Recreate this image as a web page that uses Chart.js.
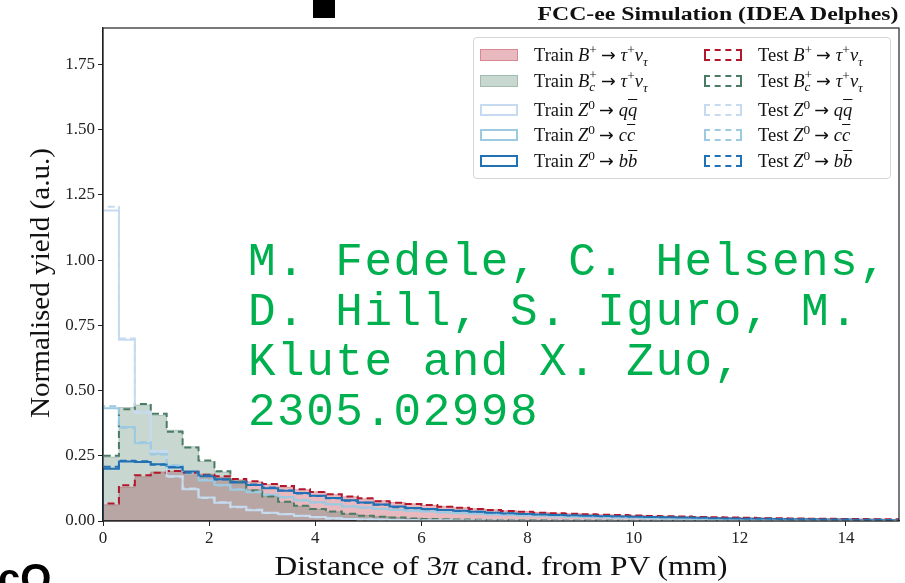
<!DOCTYPE html>
<html>
<head>
<meta charset="utf-8">
<script src="https://cdn.jsdelivr.net/npm/chart.js@4.4.1/dist/chart.umd.min.js"></script>
<style>
  html, body { margin: 0; padding: 0; background: #fff; }
  #wrap { position: relative; width: 905px; height: 583px; overflow: hidden; font-family: "Liberation Serif", serif; color: #111; }
  #plot { position: absolute; left: 0; top: 0; }
  .title { position: absolute; right: 7px; top: 4px; font-weight: bold; font-size: 18px; white-space: nowrap; transform-origin: right center; }
  .xlabel { position: absolute; left: 501px; top: 550px; font-size: 28px; white-space: nowrap; transform-origin: left top; }
  .ylabel { position: absolute; left: 40px; top: 283px; font-size: 28px; white-space: nowrap; }
  #legend { position: absolute; left: 473px; top: 37px; width: 416px; height: 140px; border: 1px solid #d6d6d6; border-radius: 4px; background: rgba(255,255,255,0.85); }
  .item { position: absolute; height: 20px; font-size: 18.5px; white-space: nowrap; line-height: 20px; }
  .handle { position: absolute; left: 0; top: 4px; width: 38px; height: 12px; box-sizing: border-box; }
  .txt { position: absolute; left: 54px; top: 0; }
  .txt sup, .txt sub { font-size: 72%; line-height: 0; }
  .arr { font-family: "DejaVu Sans", sans-serif; font-size: 95%; margin: 0 5px 0 4px; }
  .ss { display: inline-block; vertical-align: middle; line-height: 0.9; font-size: 72%; text-align: left; margin-top: -4px; }
  .ss span { display: block; }
  .bar { text-decoration: overline; }
  .credit { position: absolute; left: 248px; top: 238px; font-family: "Liberation Mono", monospace; font-size: 46px; letter-spacing: 1.5px; line-height: 50px; color: #00b04f; white-space: pre; }
  .mark { position: absolute; left: 313px; top: 0; width: 22px; height: 18px; background: #000; }
  .corner { position: absolute; left: -2px; top: 556px; font-family: "Liberation Sans", sans-serif; font-weight: bold; font-size: 40px; color: #000; }
</style>
</head>
<body>
<div id="wrap">
  <canvas id="plot" width="905" height="583"></canvas>
  <div class="mark"></div>
  <div class="title" id="title">FCC-ee Simulation (IDEA Delphes)</div>
  <div id="legend"></div>
  <div class="xlabel" id="xlabel">Distance of 3<i>π</i> cand. from PV (mm)</div>
  <div class="ylabel" id="ylabel">Normalised yield (a.u.)</div>
  <div class="credit">M. Fedele, C. Helsens,
D. Hill, S. Iguro, M.
Klute and X. Zuo,
2305.02998</div>
  <div class="corner">cO</div>
</div>
<script>
// histogram bin edges (mm), 50 bins
const BIN_EDGES = [0, 0.3, 0.6, 0.9, 1.2, 1.5, 1.8, 2.1, 2.4, 2.7, 3.0, 3.3, 3.6, 3.9, 4.2, 4.5, 4.8,
  5.1, 5.4, 5.7, 6.0, 6.3, 6.6, 6.9, 7.2, 7.5, 7.8, 8.1, 8.4, 8.7, 9.0, 9.3, 9.6, 9.9, 10.2, 10.5,
  10.8, 11.1, 11.4, 11.7, 12.0, 12.3, 12.6, 12.9, 13.2, 13.5, 13.8, 14.1, 14.4, 14.7, 15.0];

const X_TICKS = [0, 2, 4, 6, 8, 10, 12, 14];
const Y_TICKS = [0, 0.25, 0.5, 0.75, 1.0, 1.25, 1.5, 1.75];

// normalised yields per bin
const TRAIN_BPLUS = [0.062, 0.130, 0.170, 0.188, 0.190, 0.188, 0.180, 0.168, 0.158, 0.150,
  0.140, 0.130, 0.120, 0.112, 0.101, 0.093, 0.085, 0.078, 0.071, 0.066,
  0.060, 0.056, 0.051, 0.047, 0.043, 0.039, 0.036, 0.033, 0.030, 0.028,
  0.026, 0.024, 0.022, 0.021, 0.019, 0.018, 0.016, 0.015, 0.014, 0.013,
  0.012, 0.011, 0.010, 0.010, 0.009, 0.008, 0.008, 0.007, 0.007, 0.006];
const TRAIN_BC = [0.245, 0.435, 0.445, 0.405, 0.348, 0.285, 0.228, 0.188, 0.150, 0.120,
  0.095, 0.072, 0.057, 0.045, 0.035, 0.027, 0.021, 0.017, 0.013, 0.010,
  0.009, 0.007, 0.006, 0.005, 0.004, 0.003, 0.003, 0.003, 0.002, 0.002,
  0.002, 0.002, 0.001, 0.001, 0.001, 0.001, 0.001, 0.001, 0.001, 0.001,
  0.001, 0.001, 0.001, 0.0005, 0.0005, 0.0005, 0.0005, 0.0005, 0.0005, 0.0005];
const TRAIN_QQ = [1.190, 0.695, 0.415, 0.268, 0.172, 0.122, 0.090, 0.070, 0.055, 0.041,
  0.032, 0.026, 0.020, 0.015, 0.011, 0.008, 0.006, 0.005, 0.004, 0.003,
  0.003, 0.003, 0.002, 0.002, 0.002, 0.001, 0.001, 0.001, 0.001, 0.001,
  0.001, 0.001, 0.001, 0.001, 0.001, 0.001, 0.001, 0.001, 0.001, 0.001,
  0.0005, 0.0005, 0.0005, 0.0005, 0.0005, 0.0005, 0.0005, 0.0005, 0.0005, 0.0005];
const TRAIN_CC = [0.432, 0.360, 0.298, 0.258, 0.212, 0.186, 0.155, 0.138, 0.120, 0.110,
  0.100, 0.092, 0.079, 0.072, 0.064, 0.056, 0.052, 0.046, 0.042, 0.039,
  0.036, 0.033, 0.030, 0.028, 0.025, 0.023, 0.021, 0.020, 0.018, 0.016,
  0.015, 0.014, 0.013, 0.012, 0.011, 0.010, 0.009, 0.008, 0.008, 0.007,
  0.007, 0.006, 0.005, 0.005, 0.005, 0.004, 0.004, 0.003, 0.003, 0.003];
const TRAIN_BB = [0.200, 0.228, 0.226, 0.218, 0.205, 0.190, 0.172, 0.160, 0.148, 0.138,
  0.126, 0.116, 0.107, 0.097, 0.088, 0.080, 0.071, 0.063, 0.056, 0.050,
  0.046, 0.042, 0.039, 0.035, 0.032, 0.029, 0.027, 0.025, 0.023, 0.021,
  0.020, 0.018, 0.017, 0.016, 0.015, 0.014, 0.013, 0.012, 0.011, 0.010,
  0.009, 0.009, 0.008, 0.007, 0.007, 0.006, 0.006, 0.005, 0.005, 0.004];

const TEST_BPLUS = [0.067, 0.137, 0.175, 0.185, 0.192, 0.185, 0.177, 0.172, 0.161, 0.152,
  0.142, 0.134, 0.122, 0.111, 0.103, 0.094, 0.087, 0.076, 0.070, 0.065,
  0.061, 0.055, 0.051, 0.046, 0.042, 0.038, 0.035, 0.032, 0.030, 0.028,
  0.026, 0.024, 0.023, 0.021, 0.019, 0.018, 0.017, 0.015, 0.014, 0.013,
  0.012, 0.011, 0.011, 0.010, 0.009, 0.009, 0.008, 0.008, 0.007, 0.007];
const TEST_BC = [0.250, 0.428, 0.449, 0.411, 0.342, 0.282, 0.232, 0.191, 0.151, 0.117,
  0.094, 0.074, 0.058, 0.046, 0.036, 0.028, 0.020, 0.016, 0.013, 0.010,
  0.008, 0.007, 0.006, 0.005, 0.004, 0.004, 0.003, 0.003, 0.002, 0.002,
  0.002, 0.002, 0.001, 0.001, 0.001, 0.001, 0.001, 0.001, 0.001, 0.001,
  0.001, 0.001, 0.0005, 0.0005, 0.0005, 0.0005, 0.0005, 0.0005, 0.0005, 0.0005];
const TEST_QQ = [1.205, 0.700, 0.420, 0.265, 0.170, 0.125, 0.088, 0.072, 0.053, 0.043,
  0.031, 0.027, 0.019, 0.014, 0.010, 0.008, 0.006, 0.005, 0.004, 0.004,
  0.003, 0.003, 0.002, 0.002, 0.002, 0.002, 0.001, 0.001, 0.001, 0.001,
  0.001, 0.001, 0.001, 0.001, 0.001, 0.001, 0.001, 0.001, 0.001, 0.001,
  0.0005, 0.0005, 0.0005, 0.0005, 0.0005, 0.0005, 0.0005, 0.0005, 0.0005, 0.0005];
const TEST_CC = [0.440, 0.357, 0.303, 0.255, 0.215, 0.183, 0.158, 0.136, 0.122, 0.112,
  0.102, 0.090, 0.081, 0.071, 0.063, 0.057, 0.051, 0.047, 0.043, 0.040,
  0.037, 0.034, 0.031, 0.028, 0.026, 0.024, 0.022, 0.020, 0.018, 0.017,
  0.015, 0.014, 0.013, 0.012, 0.011, 0.010, 0.009, 0.009, 0.008, 0.007,
  0.007, 0.006, 0.006, 0.005, 0.005, 0.004, 0.004, 0.004, 0.003, 0.003];
const TEST_BB = [0.208, 0.231, 0.229, 0.216, 0.207, 0.185, 0.175, 0.159, 0.150, 0.140,
  0.128, 0.117, 0.105, 0.096, 0.087, 0.078, 0.070, 0.062, 0.053, 0.049,
  0.045, 0.042, 0.038, 0.035, 0.032, 0.030, 0.027, 0.025, 0.023, 0.022,
  0.020, 0.019, 0.018, 0.016, 0.015, 0.014, 0.013, 0.012, 0.011, 0.010,
  0.009, 0.009, 0.008, 0.007, 0.007, 0.006, 0.006, 0.005, 0.005, 0.004];

const RED = '#b2182b', GREEN = '#4a7c65', PALE = '#c6dbef', LIGHT = '#9ecae1', BLUE = '#2171b5';
const DASH = [7, 4];

// outline of a histogram: up from zero at the first edge, steps, back down at the last edge
function stepPoints(values) {
  const last = BIN_EDGES[BIN_EDGES.length - 1];
  const pts = [{ x: BIN_EDGES[0], y: 0 }];
  values.forEach((v, i) => pts.push({ x: BIN_EDGES[i], y: v }));
  pts.push({ x: last, y: values[values.length - 1] });
  pts.push({ x: last, y: 0 });
  return pts;
}

const ARROW = '<span class="arr">→</span>';
const TAU_NU = `<i>τ</i><sup>+</sup><i>ν</i><sub><i>τ</i></sub>`;
const series = [
  { label: 'Train B+', data: TRAIN_BPLUS, color: 'rgba(178,24,43,0.3)', fill: 'rgba(178,24,43,0.3)',
    html: `Train <i>B</i><sup>+</sup>${ARROW}${TAU_NU}` },
  { label: 'Train Bc', data: TRAIN_BC, color: 'rgba(74,124,101,0.3)', fill: 'rgba(74,124,101,0.3)',
    html: `Train <i>B</i><span class="ss"><span>+</span><span><i>c</i></span></span>${ARROW}${TAU_NU}` },
  { label: 'Train qq', data: TRAIN_QQ, color: PALE,
    html: `Train <i>Z</i><sup>0</sup>${ARROW}<i>q</i><i class="bar">q</i>` },
  { label: 'Train cc', data: TRAIN_CC, color: LIGHT,
    html: `Train <i>Z</i><sup>0</sup>${ARROW}<i>c</i><i class="bar">c</i>` },
  { label: 'Train bb', data: TRAIN_BB, color: BLUE,
    html: `Train <i>Z</i><sup>0</sup>${ARROW}<i>b</i><i class="bar">b</i>` },
  { label: 'Test B+', data: TEST_BPLUS, color: RED, dash: true,
    html: `Test <i>B</i><sup>+</sup>${ARROW}${TAU_NU}` },
  { label: 'Test Bc', data: TEST_BC, color: GREEN, dash: true,
    html: `Test <i>B</i><span class="ss"><span>+</span><span><i>c</i></span></span>${ARROW}${TAU_NU}` },
  { label: 'Test qq', data: TEST_QQ, color: PALE, dash: true,
    html: `Test <i>Z</i><sup>0</sup>${ARROW}<i>q</i><i class="bar">q</i>` },
  { label: 'Test cc', data: TEST_CC, color: LIGHT, dash: true,
    html: `Test <i>Z</i><sup>0</sup>${ARROW}<i>c</i><i class="bar">c</i>` },
  { label: 'Test bb', data: TEST_BB, color: BLUE, dash: true,
    html: `Test <i>Z</i><sup>0</sup>${ARROW}<i>b</i><i class="bar">b</i>` },
];

// legend, column-major like the draw order
const rowTops = [7, 33, 62, 87, 113];
const legend = document.getElementById('legend');
series.forEach((s, i) => {
  const col = Math.floor(i / 5), row = i % 5;
  const item = document.createElement('div');
  item.className = 'item';
  item.style.left = (col ? 230 : 6) + 'px';
  item.style.top = rowTops[row] + 'px';
  const h = document.createElement('span');
  h.className = 'handle';
  if (s.fill) { h.style.background = s.fill; h.style.border = '1px solid ' + s.color; }
  else { h.style.border = '2px ' + (s.dash ? 'dashed ' : 'solid ') + s.color; }
  const t = document.createElement('span');
  t.className = 'txt';
  t.innerHTML = s.html;
  item.appendChild(h); item.appendChild(t);
  legend.appendChild(item);
});

// stretch wide serif headings to their slot width
function stretch(el, width) {
  return width / el.getBoundingClientRect().width;
}
const title = document.getElementById('title');
title.style.transform = `scaleX(${stretch(title, 361)})`;
const xl = document.getElementById('xlabel');
xl.style.transform = `translateX(-50%) scaleX(${stretch(xl, 453)})`;
xl.style.transformOrigin = 'center top';
const yl = document.getElementById('ylabel');
const ys = stretch(yl, 270);
yl.style.transform = `translate(-50%, -50%) rotate(-90deg) scaleX(${ys})`;

const framePlugin = {
  id: 'frame',
  afterDraw(chart) {
    const { ctx, chartArea: a } = chart;
    ctx.save();
    ctx.strokeStyle = '#222';
    ctx.lineWidth = 1.2;
    ctx.strokeRect(a.left, a.top, a.right - a.left, a.bottom - a.top);
    ctx.restore();
  },
};

const tickFont = { family: 'Liberation Serif', size: 17 };

new Chart(document.getElementById('plot'), {
  type: 'line',
  data: {
    datasets: series.map((s, i) => ({
      label: s.label,
      data: stepPoints(s.data),
      stepped: true,
      borderColor: s.color,
      borderWidth: s.fill ? 1 : 2,
      borderDash: s.dash ? DASH : [],
      backgroundColor: s.fill || 'transparent',
      fill: s.fill ? 'origin' : false,
      pointRadius: 0,
      order: series.length - i,
    })),
  },
  options: {
    responsive: false,
    animation: false,
    events: [],
    layout: { padding: { left: 0, right: 6, top: 28, bottom: 0 } },
    plugins: { legend: { display: false }, tooltip: { enabled: false } },
    scales: {
      x: {
        type: 'linear', min: 0, max: 15,
        afterBuildTicks: (sc) => { sc.ticks = X_TICKS.map((v) => ({ value: v })); },
        afterFit: (sc) => { sc.height = 62; },
        grid: { drawOnChartArea: false, tickLength: 5, color: '#222' },
        border: { color: '#222', width: 1.2 },
        ticks: { font: tickFont, color: '#222', padding: 2, maxRotation: 0 },
      },
      y: {
        min: 0, max: 1.89,
        afterBuildTicks: (sc) => { sc.ticks = Y_TICKS.map((v) => ({ value: v })); },
        afterFit: (sc) => { sc.width = 103; },
        grid: { drawOnChartArea: false, tickLength: 5, color: '#222' },
        border: { color: '#222', width: 1.2 },
        ticks: { font: tickFont, color: '#222', padding: 3, callback: (v) => Number(v).toFixed(2) },
      },
    },
  },
  plugins: [framePlugin],
});
</script>
</body>
</html>
